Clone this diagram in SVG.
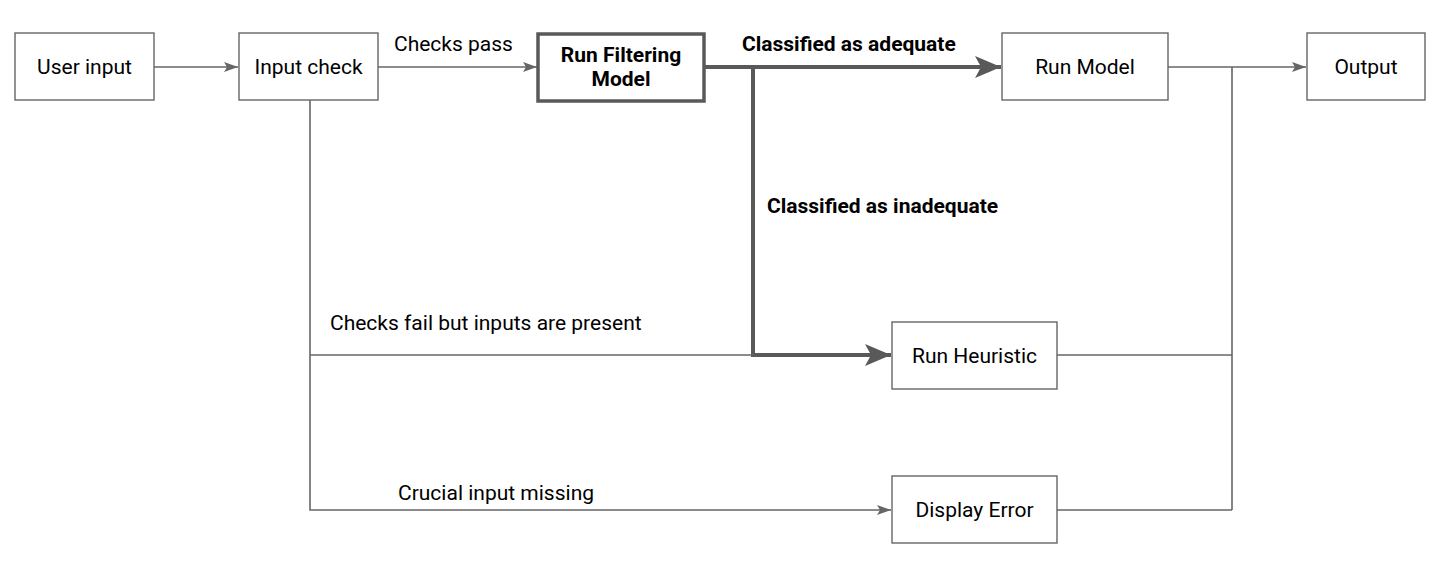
<svg xmlns="http://www.w3.org/2000/svg" width="1440" height="568" viewBox="0 0 1440 568">
<defs>
<style>
.box{fill:#fff;stroke:#666;stroke-width:1.4}
.bold{fill:#fff;stroke:#595959;stroke-width:3.5}
.t{font-family:Roboto,"Liberation Sans",sans-serif;font-size:21px;fill:#000;text-anchor:middle;dominant-baseline:central}
.tb{font-family:Roboto,"Liberation Sans",sans-serif;font-size:21px;font-weight:bold;fill:#000;text-anchor:middle;dominant-baseline:central}
.l{font-family:Roboto,"Liberation Sans",sans-serif;font-size:21px;fill:#000}
.lb{font-family:Roboto,"Liberation Sans",sans-serif;font-size:21px;font-weight:bold;fill:#000}
.c{fill:none;stroke:#666;stroke-width:1.6}
.ct{fill:none;stroke:#595959;stroke-width:4}
</style>
<marker id="a" viewBox="0 0 14 10" refX="14" refY="5" markerWidth="14" markerHeight="10" markerUnits="userSpaceOnUse" orient="auto">
<path d="M0,0 L14,5 L0,10 L3,5 Z" fill="#666"/>
</marker>
<marker id="at" viewBox="0 0 26 22" refX="26" refY="11" markerWidth="26" markerHeight="22" markerUnits="userSpaceOnUse" orient="auto">
<path d="M0,0 L26,11 L0,22 L6,11 Z" fill="#595959"/>
</marker>
</defs>
<g id="connectors">
<path class="c" d="M154,67 H238" marker-end="url(#a)"/>
<path class="c" d="M378,67 H537" marker-end="url(#a)"/>
<path class="ct" d="M704,67 H1001" marker-end="url(#at)"/>
<path class="ct" d="M753,67 V355 H891" marker-end="url(#at)"/>
<path class="c" d="M310,100 V510 H891" marker-end="url(#a)"/>
<path class="c" d="M310,355 H753"/>
<path class="c" d="M1168,67 H1306" marker-end="url(#a)"/>
<path class="c" d="M1232,67 V510"/>
<path class="c" d="M1057,355 H1232"/>
<path class="c" d="M1057,510 H1232"/>
<text class="l" x="394" y="51">Checks pass</text>
<text class="lb" x="742" y="51">Classified as adequate</text>
<text class="lb" x="767" y="213">Classified as inadequate</text>
<text class="l" x="330" y="330">Checks fail but inputs are present</text>
<text class="l" x="398" y="500">Crucial input missing</text>
</g>
<g id="user-input"><rect class="box" x="15" y="33" width="139" height="67"/><text class="t" x="84.5" y="67">User input</text></g>
<g id="input-check"><rect class="box" x="239" y="33" width="139" height="67"/><text class="t" x="308.5" y="67">Input check</text></g>
<g id="run-filtering-model"><rect class="bold" x="538" y="34" width="166" height="67"/><text class="tb" x="621" y="55">Run Filtering</text><text class="tb" x="621" y="79">Model</text></g>
<g id="run-model"><rect class="box" x="1002" y="33" width="166" height="67"/><text class="t" x="1085" y="67">Run Model</text></g>
<g id="output"><rect class="box" x="1307" y="33" width="118" height="67"/><text class="t" x="1366" y="67">Output</text></g>
<g id="run-heuristic"><rect class="box" x="892" y="322" width="165" height="67"/><text class="t" x="974.5" y="356">Run Heuristic</text></g>
<g id="display-error"><rect class="box" x="892" y="476" width="165" height="67"/><text class="t" x="974.5" y="510">Display Error</text></g>
</svg>
